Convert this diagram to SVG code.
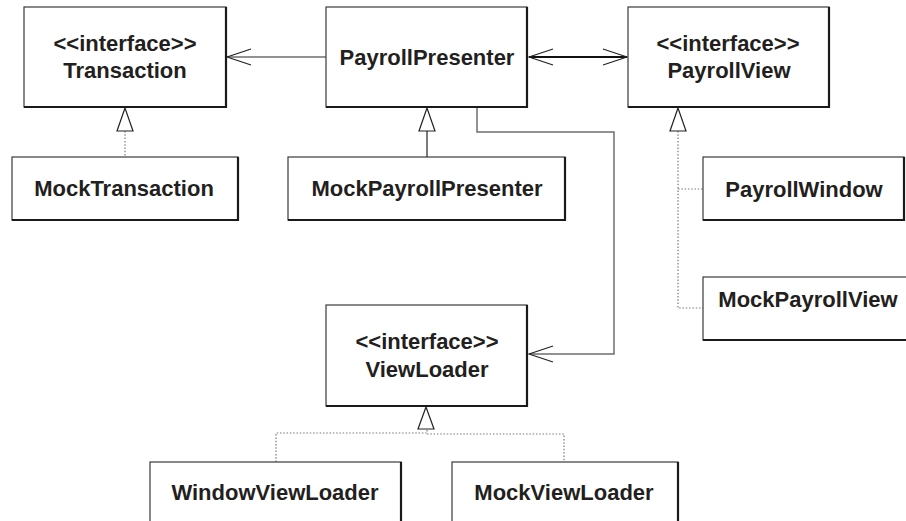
<svg xmlns="http://www.w3.org/2000/svg" width="906" height="521" viewBox="0 0 906 521">
  <style>
    .box { fill: #ffffff; stroke: #3a3a3a; stroke-width: 1.2; }
    .edge { fill: none; stroke: #1a1a1a; stroke-width: 2.2; }
    .label { font-family: "Liberation Sans", Arial, sans-serif; font-weight: bold; font-size: 22px; fill: #231f20; text-anchor: middle; }
    .assoc { fill: none; stroke: #6e6e6e; stroke-width: 1.5; }
    .strong { fill: none; stroke: #111111; stroke-width: 2.2; }
    .dotted { fill: none; stroke: #7a7a7a; stroke-width: 1.2; stroke-dasharray: 1.5 1.8; }
    .solid { fill: none; stroke: #333333; stroke-width: 1.3; }
    .tri { fill: #ffffff; stroke: #222222; stroke-width: 1.2; }
    .head { fill: none; stroke: #222222; stroke-width: 1.2; }
  </style>
  <defs>
    <marker id="open" markerUnits="userSpaceOnUse" viewBox="0 0 26 18" markerWidth="26" markerHeight="18" refX="25" refY="9" orient="auto-start-reverse">
      <path class="head" d="M1,1 L25,9 L1,17"/>
    </marker>
  </defs>

  <!-- connectors -->
  <g id="connectors">
    <!-- PayrollPresenter uses Transaction -->
    <line class="assoc" x1="326" y1="57" x2="227" y2="57" marker-end="url(#open)"/>
    <!-- PayrollPresenter <-> PayrollView -->
    <line class="strong" x1="529" y1="57" x2="627" y2="57" marker-start="url(#open)" marker-end="url(#open)"/>
    <!-- PayrollPresenter uses ViewLoader -->
    <polyline class="assoc" points="477,108 477,132 614,132 614,354 529,354" marker-end="url(#open)"/>

    <!-- MockTransaction realizes Transaction -->
    <line class="dotted" x1="125" y1="131" x2="125" y2="157"/>
    <polygon class="tri" points="125,108 117,131 133,131"/>

    <!-- MockPayrollPresenter extends PayrollPresenter -->
    <line class="solid" x1="427" y1="131" x2="427" y2="157"/>
    <polygon class="tri" points="427,108 419,131 435,131"/>

    <!-- PayrollWindow / MockPayrollView realize PayrollView -->
    <polyline class="dotted" points="678,131 678,308 703,308"/>
    <line class="dotted" x1="678" y1="189" x2="703" y2="189"/>
    <polygon class="tri" points="678,108 670,131 686,131"/>

    <!-- WindowViewLoader / MockViewLoader realize ViewLoader -->
    <polyline class="dotted" points="276,462 276,433 427,433 427,429"/>
    <polyline class="dotted" points="427,434 564,434 564,462"/>
    <polygon class="tri" points="426,407 418,429 434,429"/>
  </g>

  <!-- nodes -->
  <g id="transaction">
    <rect class="box" x="24" y="7" width="202" height="100"/>
    <polyline class="edge" points="226,7 226,107 24,107"/>
    <text class="label" x="125" y="51">&lt;&lt;interface&gt;&gt;</text>
    <text class="label" x="125" y="78">Transaction</text>
  </g>

  <g id="payroll-presenter">
    <rect class="box" x="326" y="7" width="201" height="100"/>
    <polyline class="edge" points="527,7 527,107 326,107"/>
    <text class="label" x="427" y="65">PayrollPresenter</text>
  </g>

  <g id="payroll-view">
    <rect class="box" x="628" y="7" width="201" height="100"/>
    <polyline class="edge" points="829,7 829,107 628,107"/>
    <text class="label" x="728" y="51">&lt;&lt;interface&gt;&gt;</text>
    <text class="label" x="729" y="78">PayrollView</text>
  </g>

  <g id="mock-transaction">
    <rect class="box" x="12" y="157" width="226" height="63"/>
    <polyline class="edge" points="238,157 238,220 12,220"/>
    <text class="label" x="124" y="196">MockTransaction</text>
  </g>

  <g id="mock-payroll-presenter">
    <rect class="box" x="288" y="157" width="277" height="63"/>
    <polyline class="edge" points="565,157 565,220 288,220"/>
    <text class="label" x="427" y="196">MockPayrollPresenter</text>
  </g>

  <g id="payroll-window">
    <rect class="box" x="703" y="157" width="201" height="63"/>
    <polyline class="edge" points="904,157 904,220 703,220"/>
    <text class="label" x="804" y="197">PayrollWindow</text>
  </g>

  <g id="mock-payroll-view">
    <rect class="box" x="703" y="277" width="212" height="63"/>
    <polyline class="edge" points="915,340 703,340"/>
    <text class="label" x="808" y="307">MockPayrollView</text>
  </g>

  <g id="view-loader">
    <rect class="box" x="326" y="305" width="201" height="101"/>
    <polyline class="edge" points="527,305 527,406 326,406"/>
    <text class="label" x="427" y="349">&lt;&lt;interface&gt;&gt;</text>
    <text class="label" x="427" y="377">ViewLoader</text>
  </g>

  <g id="window-view-loader">
    <rect class="box" x="150" y="462" width="251" height="80"/>
    <polyline class="edge" points="401,462 401,542"/>
    <text class="label" x="275" y="500">WindowViewLoader</text>
  </g>

  <g id="mock-view-loader">
    <rect class="box" x="452" y="462" width="226" height="80"/>
    <polyline class="edge" points="678,462 678,542"/>
    <text class="label" x="564" y="500">MockViewLoader</text>
  </g>
</svg>
